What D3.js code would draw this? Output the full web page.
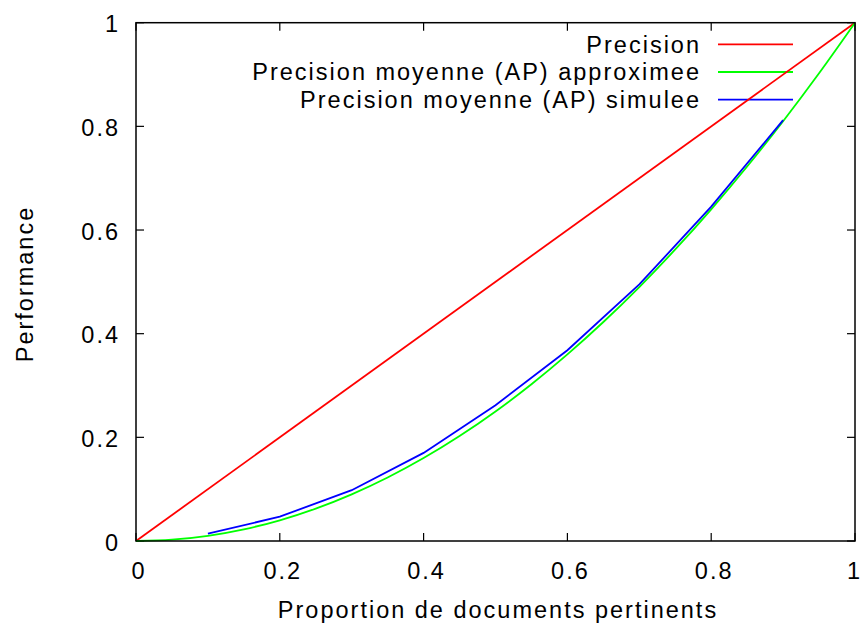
<!DOCTYPE html>
<html>
<head>
<meta charset="utf-8">
<script src="https://cdn.jsdelivr.net/npm/d3@7"></script>
<style>
  html, body { margin: 0; padding: 0; background: #fff; }
  svg { display: block; }
  text { font-family: "Liberation Sans", Arial, Helvetica, sans-serif; fill: #000; letter-spacing: 2px; }
</style>
</head>
<body>
<svg id="chart" width="860" height="626"></svg>
<script>
// ---- Data ----
const xTicks = [0, 0.2, 0.4, 0.6, 0.8, 1];
const yTicks = [0, 0.2, 0.4, 0.6, 0.8, 1];
const tickLabels = ["0", "0.2", "0.4", "0.6", "0.8", "1"];

const precisionX = [0, 1];
const precisionY = [0, 1];

const approxX = [0, 0.05, 0.1, 0.15, 0.2, 0.25, 0.3, 0.35, 0.4, 0.45, 0.5, 0.55, 0.6, 0.65, 0.7, 0.75, 0.8, 0.85, 0.9, 0.95, 1];
const approxY = [0, 0.0025, 0.01, 0.0225, 0.04, 0.0625, 0.09, 0.1225, 0.16, 0.2025, 0.25, 0.3025, 0.36, 0.4225, 0.49, 0.5625, 0.64, 0.7225, 0.81, 0.9025, 1];

const simX = [0.1, 0.2, 0.3, 0.4, 0.5, 0.6, 0.7, 0.8, 0.9];
const simY = [0.014, 0.047, 0.098, 0.17, 0.262, 0.368, 0.495, 0.645, 0.812];

const seriesNames = ["Precision", "Precision moyenne (AP) approximee", "Precision moyenne (AP) simulee"];
const seriesColors = ["#ff0000", "#00ff00", "#0000ff"];

// ---- Layout ----
const W = 860;
const svg = d3.select("#chart");
const pLeft = 136, pRight = 855, pTop = 22.7, pBottom = 541;
const x = d3.scaleLinear().domain([0, 1]).range([pLeft, pRight]);
const y = d3.scaleLinear().domain([0, 1]).range([pBottom, pTop]);
const fs = 23.5;
const tickLen = 8;

const series = [
  { pts: precisionX.map((v, i) => [v, precisionY[i]]), curve: d3.curveLinear },
  { pts: approxX.map((v, i) => [v, approxY[i]]), curve: d3.curveMonotoneX },
  { pts: simX.map((v, i) => [v, simY[i]]), curve: d3.curveLinear }
];

// Ticks (inner, mirrored)
const tg = svg.append("g").attr("stroke", "#000").attr("stroke-width", 1.2);
xTicks.forEach(t => {
  tg.append("line").attr("x1", x(t)).attr("x2", x(t)).attr("y1", pBottom).attr("y2", pBottom - tickLen);
  tg.append("line").attr("x1", x(t)).attr("x2", x(t)).attr("y1", pTop).attr("y2", pTop + tickLen);
});
yTicks.forEach(t => {
  tg.append("line").attr("y1", y(t)).attr("y2", y(t)).attr("x1", pLeft).attr("x2", pLeft + tickLen);
  tg.append("line").attr("y1", y(t)).attr("y2", y(t)).attr("x1", pRight).attr("x2", pRight - tickLen);
});

// Tick labels
xTicks.forEach((t, i) => {
  const txt = svg.append("text").attr("x", x(t) + 3).attr("y", 579).attr("text-anchor", "middle")
    .attr("font-size", fs).text(tickLabels[i]);
  // keep the last label inside the canvas
  const bb = txt.node().getBBox();
  if (bb.x + bb.width > W) {
    txt.style("letter-spacing", "0px").attr("text-anchor", "end").attr("x", W);
  }
});
yTicks.forEach((t, i) => {
  svg.append("text").attr("x", 120).attr("y", y(t) + 9.5).attr("text-anchor", "end")
    .attr("font-size", fs).text(tickLabels[i]);
});

// Axis labels
svg.append("text").attr("x", 498).attr("y", 618).attr("text-anchor", "middle")
  .attr("font-size", fs).text("Proportion de documents pertinents");
svg.append("text").attr("transform", "translate(33,284) rotate(-90)").attr("text-anchor", "middle")
  .attr("font-size", fs).text("Performance");

// Legend
const legY = [44.3, 72, 99.7];
seriesNames.forEach((n, i) => {
  svg.append("text").attr("x", 701).attr("y", legY[i] + 8.3).attr("text-anchor", "end")
    .attr("font-size", fs).text(n);
  svg.append("line").attr("x1", 718).attr("x2", 793).attr("y1", legY[i]).attr("y2", legY[i])
    .attr("stroke", seriesColors[i]).attr("stroke-width", 1.8);
});

// Lines
series.forEach((s, i) => {
  const line = d3.line().x(d => x(d[0])).y(d => y(d[1])).curve(s.curve);
  svg.append("path").attr("d", line(s.pts)).attr("fill", "none")
    .attr("stroke", seriesColors[i]).attr("stroke-width", 1.8);
});

// Border
svg.append("rect").attr("x", pLeft).attr("y", pTop).attr("width", pRight - pLeft).attr("height", pBottom - pTop)
  .attr("fill", "none").attr("stroke", "#000").attr("stroke-width", 1.5);
</script>
</body>
</html>
